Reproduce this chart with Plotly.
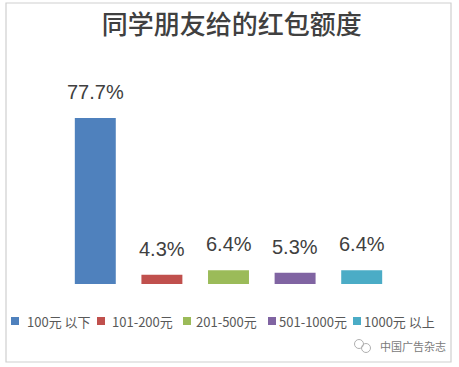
import plotly.graph_objects as go

# ---- data ----
categories = ["100元 以下", "101-200元", "201-500元", "501-1000元", "1000元 以上"]
values = [77.7, 4.3, 6.4, 5.3, 6.4]
labels = ["77.7%", "4.3%", "6.4%", "5.3%", "6.4%"]
colors = ["#4f81bd", "#c0504d", "#9bbb59", "#8064a2", "#4bacc6"]
title_text = "同学朋友给的红包额度"
watermark = "中国广告杂志"

# ---- layout geometry (pixels) ----
W_FIG, H_FIG = 459, 367
ML, MR, MT, MB = 62, 64, 70, 83
PW = W_FIG - ML - MR
PH = H_FIG - MT - MB
BASE_Y = H_FIG - MB


def pxx(x):
    return (x - ML) / PW


def pxy(y):
    return (BASE_Y - y) / PH


fig = go.Figure()
for cat, val, col in zip(categories, values, colors):
    fig.add_trace(go.Bar(x=[cat], y=[val], marker=dict(color=col, line=dict(width=0)),
                         name=cat, showlegend=False, hoverinfo="skip"))

annotations = []
# data labels
for cat, val, lab in zip(categories, values, labels):
    annotations.append(dict(x=cat, y=val, xref="x", yref="y", text=lab, showarrow=False,
                            yanchor="bottom", yshift=13,
                            font=dict(family="Liberation Sans", size=20, color="#404040")))

# custom legend
legend_marker_x = [11, 97, 183, 268, 353]
legend_text_x = [25, 110, 194, 277, 362]
LEG_Y = 321
shapes = []
for cat, col, mx, tx in zip(categories, colors, legend_marker_x, legend_text_x):
    shapes.append(dict(type="rect", xref="paper", yref="paper",
                       x0=pxx(mx), x1=pxx(mx + 8), y0=pxy(LEG_Y + 4), y1=pxy(LEG_Y - 4),
                       fillcolor=col, line=dict(width=0)))
    annotations.append(dict(x=pxx(tx), y=pxy(LEG_Y), xref="paper", yref="paper", text=cat,
                            showarrow=False, xanchor="left", yanchor="middle",
                            font=dict(family="Noto Sans CJK SC", size=13, color="#595959")))

# watermark
annotations.append(dict(x=pxx(378), y=pxy(346), xref="paper", yref="paper", text=watermark,
                        showarrow=False, xanchor="left", yanchor="middle",
                        font=dict(family="Noto Sans CJK SC", size=11, color="#7a7a7a")))
for cx, cy, r in [(359, 344, 4.5), (366, 348, 4.5)]:
    shapes.append(dict(type="circle", xref="paper", yref="paper",
                       x0=pxx(cx - r), x1=pxx(cx + r), y0=pxy(cy + r), y1=pxy(cy - r),
                       line=dict(color="#b0b0b0", width=1)))

# frame
shapes.append(dict(type="rect", xref="paper", yref="paper",
                   x0=pxx(6), x1=pxx(451), y0=pxy(362), y1=pxy(3),
                   line=dict(color="#cfcfcf", width=1.2), fillcolor="rgba(0,0,0,0)", layer="below"))

fig.update_layout(
    width=W_FIG, height=H_FIG,
    margin=dict(l=ML, r=MR, t=MT, b=MB, pad=0),
    paper_bgcolor="white", plot_bgcolor="white",
    barmode="overlay", bargap=0.385,
    showlegend=False,
    title=dict(text=title_text, x=0.505, xref="container", xanchor="center",
               y=1 - 25 / H_FIG, yref="container", yanchor="middle",
               font=dict(family="Noto Sans CJK SC", size=26, color="#404040", weight=500)),
    xaxis=dict(visible=False, categoryorder="array", categoryarray=categories,
               range=[-0.5, len(categories) - 0.5]),
    yaxis=dict(visible=False, range=[0, PH / 2.136]),
    annotations=annotations,
    shapes=shapes,
)

fig.write_html("out.html")
